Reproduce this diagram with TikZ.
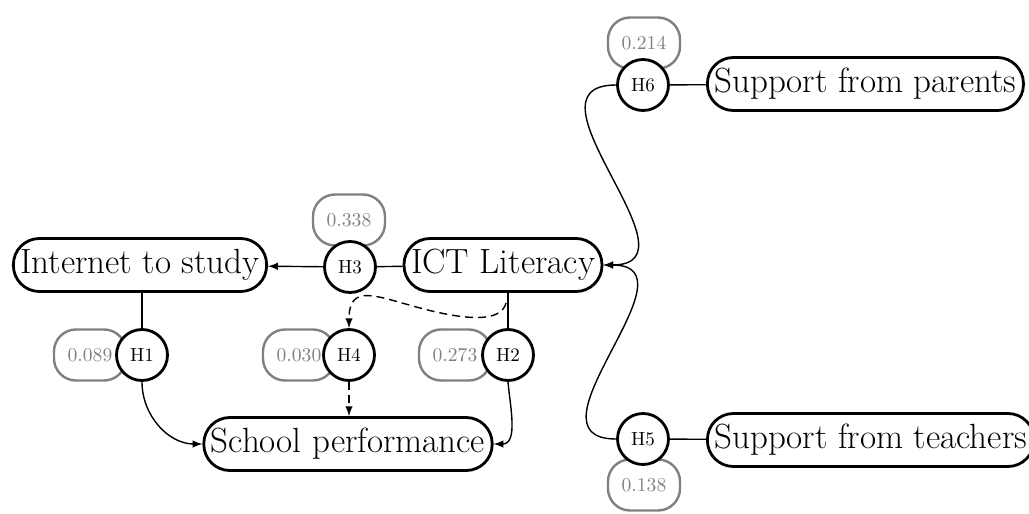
\documentclass[tikz,border=0pt]{standalone}
\usepackage{tikz}
\usepackage{xcolor}
\usetikzlibrary{arrows}

\begin{document}
\begin{tikzpicture}[x=0.5pt,y=-0.5pt]
\tikzset{construct/.style={draw,line width=1.4pt,rounded corners=13pt,minimum height=26.5pt,inner xsep=3.5pt,font=\fontsize{17.5}{21}\selectfont}}
\tikzset{hyp/.style={draw,circle,fill=white,line width=1.4pt,minimum size=25.5pt,inner sep=1pt,font=\fontsize{9.5}{11}\selectfont}}
\tikzset{coef/.style={draw=gray,text=gray,line width=1.2pt,rounded corners=11pt,minimum width=36pt,minimum height=25.5pt,inner sep=1pt,font=\fontsize{9.8}{11}\selectfont}}
\tikzset{link/.style={line width=0.7pt}}

\useasboundingbox (0,0) rectangle (1029,514);

\node[coef] (v1) at (90,355) {0.089};
\node[coef] (v4) at (299,355) {0.030};
\node[coef] (v2) at (455,355) {0.273};
\node[coef] (v3) at (349,220) {0.338};
\node[coef] (v6) at (644,43) {0.214};
\node[coef] (v5) at (644,485) {0.138};

\node[construct] (inet) at (140,265) {Internet to study};
\node[construct] (ict) at (503,265) {ICT Literacy};
\node[construct] (school) at (348,444) {School performance};
\node[construct,anchor=west] (parents) at (706,84) {Support from parents};
\node[construct,anchor=west] (teachers) at (706,440) {Support from teachers};

\node[hyp] (h1) at (142,355) {H1};
\node[hyp] (h4) at (349,355) {H4};
\node[hyp] (h2) at (508,355) {H2};
\node[hyp] (h3) at (350,267) {H3};
\node[hyp] (h6) at (643,85) {H6};
\node[hyp] (h5) at (643,439) {H5};

\coordinate (ds) at (506,303);
\coordinate (dm) at (420,308);

\draw[link,-latex] (h3) -- (inet);
\draw[link] (h3) -- (ict);
\draw[link] (inet.south -| h1) -- (h1.north);
\draw[link,-latex] (h1.south) to[out=-90,in=180] (school.west);
\draw[link] (ict.south -| h2) -- (h2.north);
\draw[link,-latex] (h2.south) to[out=-85,in=0] (school.east);
\draw[link,dash pattern=on 4pt off 2.5pt,-latex] (ds) .. controls +(-5,20) and +(45,12) .. (dm) .. controls +(-45,-12) and +(0,-45) .. (h4.north);
\draw[link,dash pattern=on 4pt off 2.5pt,-latex] (h4.south) -- (h4.south |- school.north);
\draw[link] (h6) -- (parents);
\draw[link] (h5) -- (teachers);
\draw[link,-latex] (h6.west) to[out=180,in=0,looseness=1.45] (ict.east);
\draw[link,-latex] (h5.west) to[out=180,in=0,looseness=1.45] (ict.east);

\end{tikzpicture}
\end{document}
